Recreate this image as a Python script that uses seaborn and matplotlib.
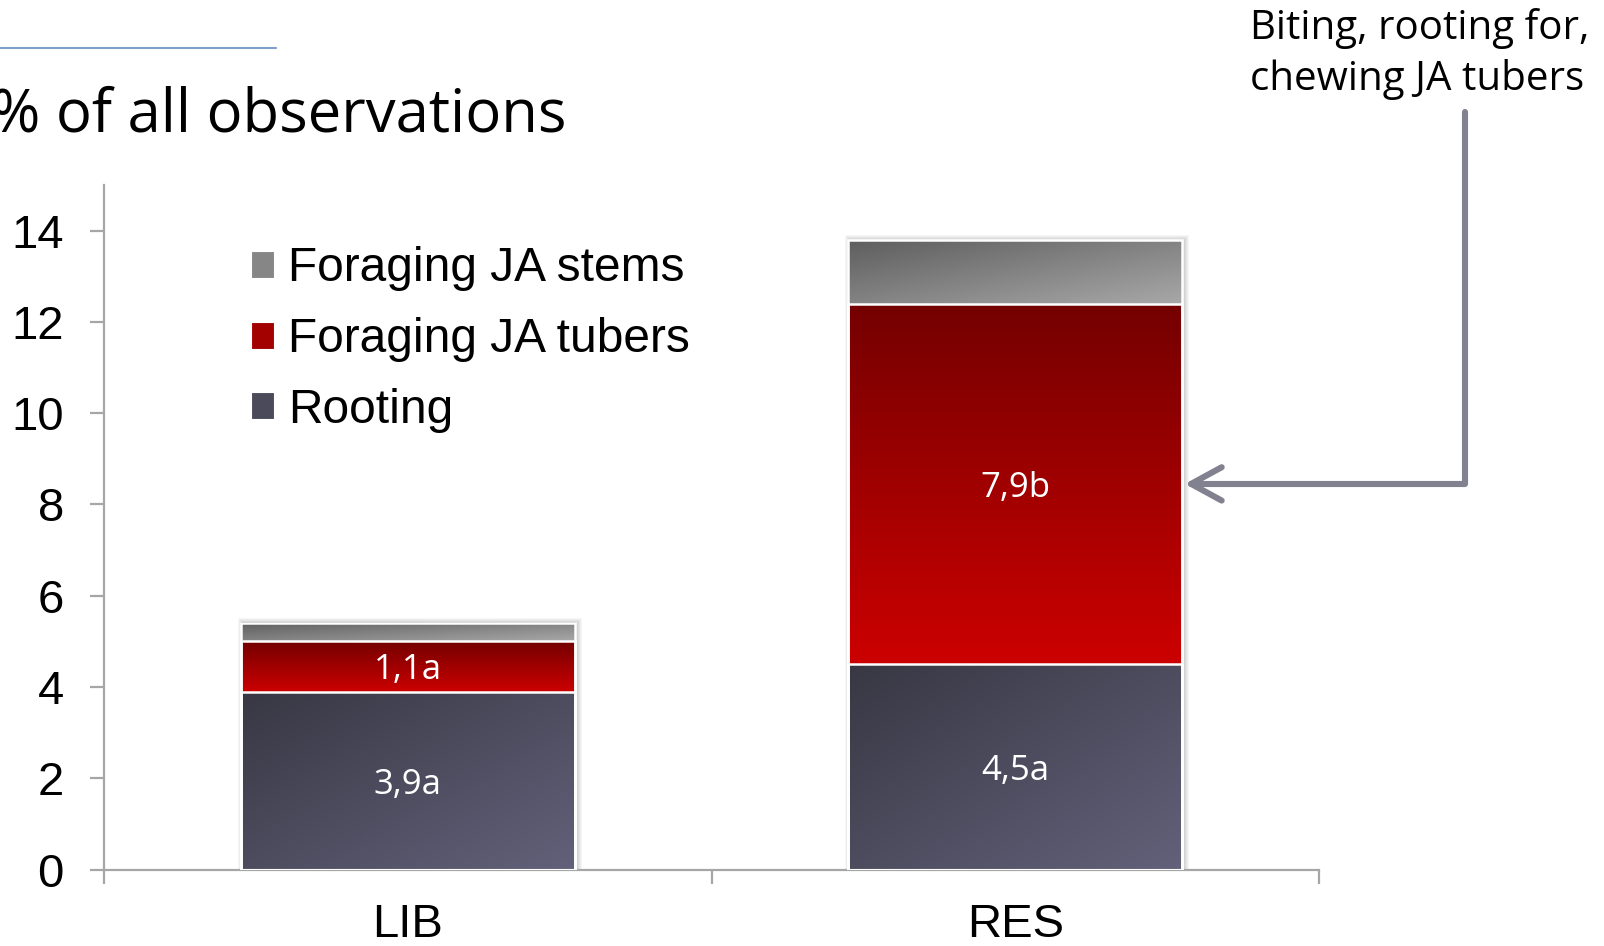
import numpy as np
import pandas as pd
import matplotlib
matplotlib.use("Agg")
import matplotlib.pyplot as plt
import seaborn as sns
from matplotlib.patches import Patch, Rectangle
from matplotlib.lines import Line2D
from matplotlib.colors import LinearSegmentedColormap

# ---- data -------------------------------------------------------------
groups = ["LIB", "RES"]
rooting = [3.9, 4.5]
tubers = [1.1, 7.9]
stems = [0.4, 1.4]
rooting_letters = ["a", "a"]
tubers_letters = ["a", "b"]
series_names = ["Foraging JA stems", "Foraging JA tubers", "Rooting"]
y_ticks = [0, 2, 4, 6, 8, 10, 12, 14]

# ---- style ------------------------------------------------------------
sns.set_style("white")
plt.rcParams["font.family"] = ["Liberation Sans", "DejaVu Sans"]
plt.rcParams["text.color"] = "black"
plt.rcParams["xtick.color"] = "black"
plt.rcParams["ytick.color"] = "black"
LABEL_FONT = ["Open Sans", "DejaVu Sans"]
AXIS_GREY = "#a6a6a6"

fig = plt.figure(figsize=(16.04, 9.46), dpi=100)
ax = fig.add_axes([0.0650, 0.0808, 0.7573, 0.7237])

df = pd.DataFrame({"group": groups, "rooting": rooting,
                   "tubers": tubers, "stems": stems})
df["lvl1"] = df["rooting"]
df["lvl2"] = df["lvl1"] + df["tubers"]
df["lvl3"] = df["lvl2"] + df["stems"]

# cumulative layers, tallest first, so each segment is bounded by two layers
for col in ["lvl3", "lvl2", "lvl1"]:
    sns.barplot(data=df, x="group", y=col, order=groups, color="white",
                width=0.55, errorbar=None, edgecolor="white",
                linewidth=1.8, zorder=3, ax=ax)

patches = list(ax.patches)
top_p, mid_p, low_p = patches[0:2], patches[2:4], patches[4:6]
for p in patches:
    p.set_facecolor("none")


def gradient_fill(x0, x1, y0, y1, c_start, c_end, mode):
    n = 200
    v = np.linspace(0, 1, n)[:, None]          # 0 at top row
    u = np.linspace(0, 1, n)[None, :]          # 0 at left column
    if mode == "vertical":
        t = v * np.ones_like(u)
    else:
        t = 0.5 * (u + v)
    cmap = LinearSegmentedColormap.from_list("seg", [c_start, c_end])
    ax.imshow(t, cmap=cmap, vmin=0, vmax=1, extent=(x0, x1, y0, y1),
              aspect="auto", interpolation="bilinear", zorder=2)


# soft drop shadow around each stacked bar
px_x = 2.0 / 1214.7
px_y = 15.0 / 684.6
for p in top_p:
    x0, w, h = p.get_x(), p.get_width(), p.get_height()
    for k in range(1, 6):
        ax.add_patch(Rectangle((x0 - k * px_x + 2 * px_x, -1),
                               w + 2 * k * px_x, h + 1 + k * px_y,
                               facecolor="black", edgecolor="none",
                               alpha=0.035, zorder=1.5))

for i in range(len(groups)):
    x0 = top_p[i].get_x()
    x1 = x0 + top_p[i].get_width()
    # rooting
    gradient_fill(x0, x1, 0, low_p[i].get_height(), "#383743", "#63617a", "diagonal")
    # tubers
    gradient_fill(x0, x1, low_p[i].get_height(), mid_p[i].get_height(),
                  "#740000", "#cc0000", "vertical")
    # stems
    gradient_fill(x0, x1, mid_p[i].get_height(), top_p[i].get_height(),
                  "#5e5e5e", "#a8a8a8", "diagonal")

# segment value labels
for i in range(len(groups)):
    ax.text(i, rooting[i] / 2,
            f"{rooting[i]:.1f}".replace(".", ",") + rooting_letters[i],
            ha="center", va="center_baseline", color="white", fontsize=25,
            family=LABEL_FONT, zorder=5)
    ax.text(i, rooting[i] + tubers[i] / 2,
            f"{tubers[i]:.1f}".replace(".", ",") + tubers_letters[i],
            ha="center", va="center_baseline", color="white", fontsize=25,
            family=LABEL_FONT, zorder=5)

ax.set_xlim(-0.5, 1.5)
ax.set_ylim(0, 15)

# ---- axes -------------------------------------------------------------
sns.despine(ax=ax)
for s in ["left", "bottom"]:
    ax.spines[s].set_color(AXIS_GREY)
    ax.spines[s].set_linewidth(1.6)
ax.set_yticks(y_ticks)
ax.tick_params(axis="y", direction="out", length=10, width=1.6,
               color=AXIS_GREY, labelsize=34, pad=19, left=True,
               labelcolor="black")
ax.set_xticks([0, 1])
ax.set_xticklabels(groups)
ax.set_xticks([-0.5, 0.5, 1.5], minor=True)
ax.tick_params(axis="x", which="major", length=0, labelsize=34, pad=24,
               labelcolor="black")
ax.tick_params(axis="x", which="minor", direction="out", length=10,
               width=1.6, color=AXIS_GREY, bottom=True)
ax.set_xlabel("")
ax.set_ylabel("")

# ---- legend -----------------------------------------------------------
handles = [Patch(facecolor=c, edgecolor="white", linewidth=0.8)
           for c in ["#868686", "#a30000", "#4b4a5a"]]
leg = ax.legend(handles, series_names, loc="upper left",
                bbox_to_anchor=(0.1562, 0.7398), bbox_transform=fig.transFigure,
                frameon=False, fontsize=34.5, handlelength=0.49,
                handleheight=0.49, handletextpad=0.3, labelspacing=0.54,
                borderpad=0, borderaxespad=0)
for t in leg.get_texts():
    t.set_color("black")

# ---- title and callout ------------------------------------------------
fig.add_artist(Line2D([0, 276 / 1604], [1 - 48 / 946] * 2, color="#7f9fcb",
                      lw=1.5, transform=fig.transFigure))
fig.text(-9 / 1604, 1 - 131 / 946, "% of all observations", ha="left",
         va="baseline", fontsize=43, family=LABEL_FONT, color="black")

fig.text(1250 / 1604, 1 - 39 / 946, "Biting, rooting for,", ha="left",
         va="baseline", fontsize=29, family=LABEL_FONT, color="black")
fig.text(1250 / 1604, 1 - 90 / 946, "chewing JA tubers", ha="left",
         va="baseline", fontsize=29, family=LABEL_FONT, color="black")

bar_right = top_p[1].get_x() + top_p[1].get_width()
ax.annotate("", xy=(bar_right + 0.004, rooting[1] + tubers[1] / 2),
            xycoords="data", xytext=(1465, 946 - 112), textcoords="figure pixels",
            arrowprops=dict(arrowstyle="->,head_length=1.1,head_width=0.6",
                            connectionstyle="angle,angleA=90,angleB=0,rad=0",
                            color="#82818f", lw=4.4, shrinkA=0, shrinkB=0,
                            mutation_scale=20, capstyle="round",
                            joinstyle="round"),
            annotation_clip=False)

fig.savefig("out.png", dpi=100)
